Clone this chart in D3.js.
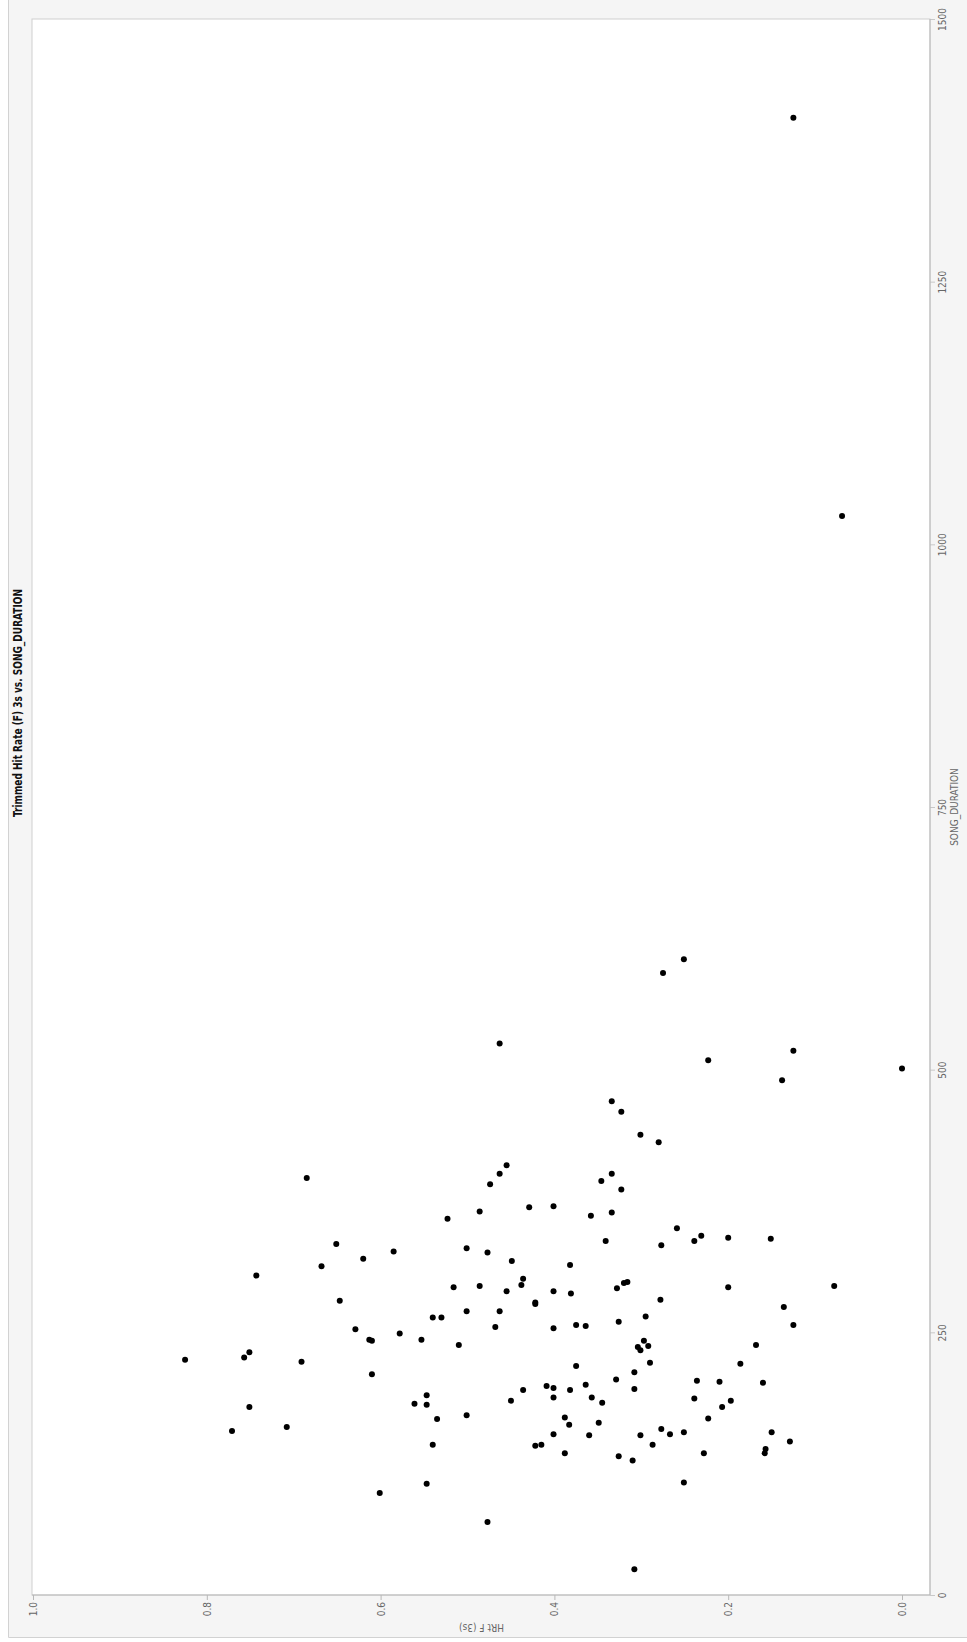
<!DOCTYPE html>
<html>
<head>
<meta charset="utf-8">
<script src="https://cdn.jsdelivr.net/npm/d3@7"></script>
<style>
  body { margin: 0; background: #fff; }
  svg { display: block; }
</style>
</head>
<body>
<div id="chart"></div>
<script>
// SONG_DURATION (seconds) and HRt F (3s) for each song
var durations = [
    605, 592, 525, 509, 518, 490, 501, 470, 460, 438, 431, 409, 401, 391, 397, 401, 394, 386,
    1406, 1027, 24.5,
    365, 358, 334, 327, 320, 313, 304, 330, 326, 294, 293, 280, 264, 264, 270, 270, 255, 238,
    243, 249, 253, 243, 242, 224, 226, 231, 222, 210, 190, 182, 181, 167.5, 171, 179, 156, 160,
    143, 106, 97, 69.5,
    369, 370, 361, 364, 349, 342, 337, 340, 339, 337, 333, 318, 314, 301, 295, 289, 289, 287,
    292, 298, 297, 293, 294, 277, 278.5, 281, 274, 257, 265, 260, 254, 257, 256, 242, 236, 233,
    237, 221, 238, 220, 202, 218, 212, 205, 196, 204, 203, 187, 185, 179, 168, 199, 197, 195,
    200, 195, 185, 188, 188, 183, 169, 162, 164, 153, 152, 142, 143, 135, 132, 128, 152, 158,
    153, 155, 143, 135, 155, 146, 139, 135, 107
];
var hitRates = [
    0.251, 0.275, 0.463, 0.223, 0.125, 0.138, 0.000, 0.334, 0.323, 0.301, 0.280, 0.455, 0.463, 0.474, 0.685, 0.334, 0.346, 0.323,
    0.125, 0.069, 0.308,
    0.486, 0.523, 0.651, 0.585, 0.620, 0.668, 0.743, 0.501, 0.477, 0.486, 0.516, 0.647, 0.540, 0.530, 0.501, 0.463, 0.468, 0.510,
    0.553, 0.578, 0.629, 0.613, 0.610, 0.825, 0.757, 0.751, 0.691, 0.610, 0.547, 0.561, 0.547, 0.535, 0.501, 0.751, 0.771, 0.708,
    0.540, 0.547, 0.601, 0.477,
    0.429, 0.401, 0.358, 0.334, 0.259, 0.231, 0.239, 0.200, 0.151, 0.341, 0.277, 0.449, 0.382, 0.436, 0.438, 0.455, 0.401, 0.381,
    0.328, 0.316, 0.320, 0.200, 0.078, 0.422, 0.422, 0.278, 0.136, 0.125, 0.295, 0.326, 0.401, 0.375, 0.364, 0.297, 0.304, 0.301,
    0.292, 0.290, 0.168, 0.186, 0.160, 0.375, 0.308, 0.329, 0.308, 0.236, 0.210, 0.239, 0.197, 0.207, 0.223, 0.409, 0.401, 0.382,
    0.364, 0.436, 0.450, 0.401, 0.357, 0.345, 0.388, 0.383, 0.349, 0.401, 0.360, 0.422, 0.415, 0.388, 0.326, 0.310, 0.301, 0.277,
    0.267, 0.251, 0.287, 0.228, 0.150, 0.129, 0.157, 0.158, 0.251
];
var hitTicks = [1.0, 0.8, 0.6, 0.4, 0.2, 0.0];
var durTicks = [0, 250, 500, 750, 1000, 1250, 1500];
var title = 'Trimmed Hit Rate (F) 3s vs. SONG_DURATION';

// the whole chart is turned a quarter turn to the left:
// hit rate runs along the bottom, song duration up the right side
const width = 967;
const height = 1642;
var plot = { left: 33, right: 930, top: 19, bottom: 1595 };
var hitZero = 902;

var svg = d3.select('#chart')
    .append('svg')
    .attr('width', width)
    .attr('height', height);

// grey panel behind the plot
svg.append('rect')
    .attr('x', 8).attr('y', 0)
    .attr('width', width - 8).attr('height', 1637)
    .attr('fill', '#f5f5f5');
svg.append('path')
    .attr('d', 'M8.5,0V1637.5H' + width)
    .attr('fill', 'none')
    .attr('stroke', '#d2d2d2');

const hitScale = d3.scaleLinear()
    .domain([0, 1])
    .range([hitZero, plot.left]);

const durScale = d3.scaleLinear()
    .domain([0, 1500])
    .range([plot.bottom, plot.top]);

// white plot area
svg.append('rect')
    .attr('x', plot.left - 1)
    .attr('y', plot.top)
    .attr('width', plot.right - plot.left + 1)
    .attr('height', plot.bottom - plot.top)
    .attr('fill', '#fff')
    .attr('stroke', '#cfcfcf');

// hit rate axis (bottom)
const gx = svg.append('g')
    .attr('transform', 'translate(0,' + plot.bottom + ')')
    .call(d3.axisBottom(hitScale).tickValues(hitTicks).tickFormat(d3.format('.1f')).tickSize(5).tickSizeOuter(0));
gx.select('.domain').remove();
gx.append('line')
    .attr('x1', plot.left - 1).attr('x2', plot.right)
    .attr('stroke', '#b8b8b8');
gx.selectAll('.tick line').attr('stroke', '#b8b8b8');
gx.selectAll('.tick text')
    .attr('transform', 'rotate(-90)')
    .attr('x', -7)
    .attr('y', 0)
    .attr('dy', '0.35em')
    .attr('text-anchor', 'end')
    .style('font-family', '"DejaVu Sans Condensed", "DejaVu Sans", sans-serif')
    .style('font-size', '10px')
    .attr('fill', '#666');

// duration axis (right)
const gy = svg.append('g')
    .attr('transform', 'translate(' + plot.right + ',0)')
    .call(d3.axisRight(durScale).tickValues(durTicks).tickFormat(d3.format('d')).tickSize(5).tickSizeOuter(0));
gy.select('.domain').remove();
gy.append('line')
    .attr('y1', plot.top).attr('y2', plot.bottom)
    .attr('stroke', '#b8b8b8');
gy.selectAll('.tick line').attr('stroke', '#c8c8c8');
gy.selectAll('.tick text')
    .attr('transform', 'rotate(-90)')
    .attr('x', 0)
    .attr('y', 16)
    .attr('dy', 0)
    .attr('text-anchor', 'middle')
    .style('font-family', '"DejaVu Sans Condensed", "DejaVu Sans", sans-serif')
    .style('font-size', '10px')
    .attr('fill', '#666');

// axis titles
svg.append('text')
    .text('SONG_DURATION')
    .attr('transform', 'translate(958,' + ((plot.top + plot.bottom) / 2) + ') rotate(-90)')
    .attr('text-anchor', 'middle')
    .style('font-family', '"DejaVu Sans Condensed", "DejaVu Sans", sans-serif')
    .style('font-size', '10px')
    .attr('fill', '#666');

svg.append('text')
    .text('HRt F (3s)')
    .attr('transform', 'translate(' + ((plot.left + plot.right) / 2) + ',1624) rotate(180)')
    .attr('text-anchor', 'middle')
    .style('font-family', '"DejaVu Sans Condensed", "DejaVu Sans", sans-serif')
    .style('font-size', '10px')
    .attr('fill', '#666');

// chart title
svg.append('text')
    .text(title)
    .attr('transform', 'translate(22,703) rotate(-90)')
    .attr('text-anchor', 'middle')
    .attr('textLength', 228)
    .attr('lengthAdjust', 'spacingAndGlyphs')
    .style('font-family', '"DejaVu Sans Condensed", "DejaVu Sans", sans-serif')
    .style('font-weight', 'bold')
    .style('font-size', '13px')
    .attr('fill', '#111');

// points
var points = durations.map((d, i) => ({ dur: d, hit: hitRates[i] }));
svg.append('g')
    .selectAll('circle')
    .data(points)
    .enter()
    .append('circle')
    .attr('cx', d => hitScale(d.hit))
    .attr('cy', d => durScale(d.dur))
    .attr('r', 3)
    .attr('fill', '#000');
</script>
</body>
</html>
